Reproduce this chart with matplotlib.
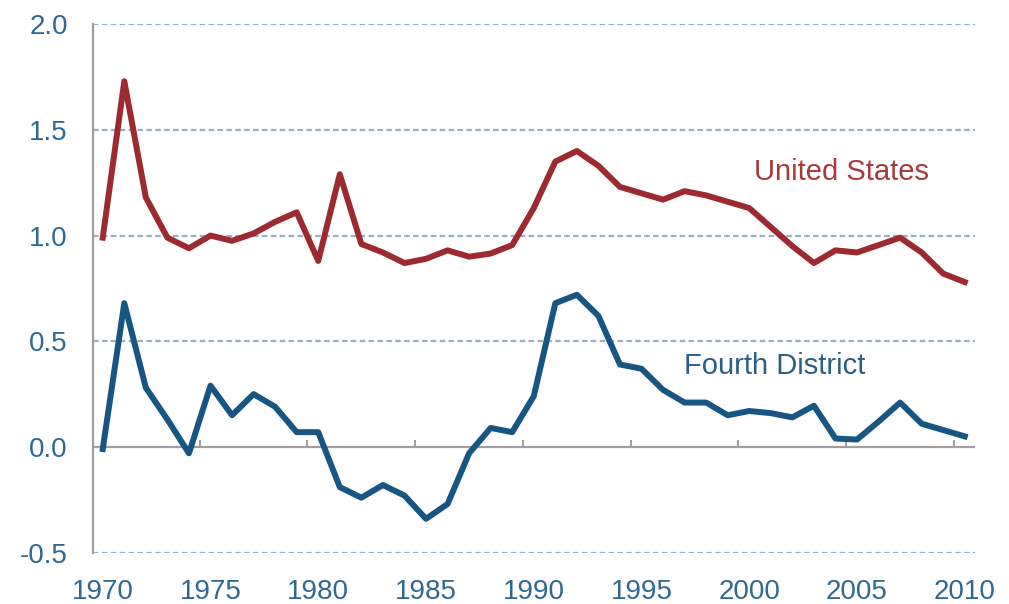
import matplotlib
matplotlib.use("Agg")
from matplotlib import pyplot as plt
import numpy as np

plt.rcParams['font.family'] = ['Liberation Sans', 'DejaVu Sans']

# anos
anos = list(range(1970, 2011))

# Estados Unidos
valores_eua = [0.99, 1.73, 1.18, 0.99, 0.94, 1.00, 0.975, 1.01, 1.065, 1.11,
               0.88, 1.29, 0.96, 0.92, 0.87, 0.89, 0.93, 0.90, 0.915, 0.955,
               1.13, 1.35, 1.40, 1.33, 1.23, 1.20, 1.17, 1.21, 1.19, 1.16,
               1.13, 1.04, 0.95, 0.87, 0.93, 0.92, 0.955, 0.99, 0.92, 0.82,
               0.78]

# Quarto Distrito
valores_distrito = [-0.01, 0.68, 0.28, 0.13, -0.03, 0.29, 0.15, 0.25, 0.19, 0.07,
                    0.07, -0.19, -0.24, -0.18, -0.23, -0.34, -0.27, -0.03, 0.09, 0.07,
                    0.24, 0.68, 0.72, 0.62, 0.39, 0.37, 0.27, 0.21, 0.21, 0.15,
                    0.17, 0.16, 0.14, 0.195, 0.04, 0.035, 0.12, 0.21, 0.11, 0.08,
                    0.05]

anos_rotulos = list(range(1970, 2011, 5))
valores_y = [-0.5, 0.0, 0.5, 1.0, 1.5, 2.0]

cor_eua = '#9c2a30'
cor_distrito = '#175682'
cor_texto = '#2f6891'

fig = plt.figure(figsize=(10.09, 6.04), dpi=100)
ax = fig.add_axes([0.092, 0.085, 0.874, 0.875])

# linhas de grade pontilhadas
for v in valores_y:
    if v != 0:
        ax.axhline(v, color='#9ab0c2', linestyle=(0, (2.5, 1.5)), linewidth=1.6, zorder=1)
ax.axhline(0, color='#a0a0a0', linewidth=1.6, zorder=1)
# marcas entre as categorias (no meio dos anos)
marcas = [a + 4.5 for a in anos_rotulos[:-1]]
ax.vlines(marcas, 0, 0.035, color='#a0a0a0', linewidth=1.4, zorder=1)

ax.plot(anos, valores_eua, color=cor_eua, linewidth=4.3, zorder=3)
ax.plot(anos, valores_distrito, color=cor_distrito, linewidth=4.3, zorder=3)

ax.text(2004.3, 1.30, 'United States', color='#a8393c', fontsize=21, ha='center', va='center')
ax.text(2001.2, 0.385, 'Fourth District', color='#2a6088', fontsize=21, ha='center', va='center')

ax.set_xlim(1969.54, 2010.46)
ax.set_ylim(-0.5, 2.0)
ax.set_yticks(valores_y)
ax.set_yticklabels(['%.1f' % v for v in valores_y])
ax.set_xticks(anos_rotulos)
ax.set_xticklabels([str(a) for a in anos_rotulos])
ax.tick_params(axis='both', length=0, labelsize=20, colors=cor_texto)
ax.tick_params(axis='x', pad=19)
ax.tick_params(axis='y', pad=18)

for lado in ['top', 'right', 'bottom']:
    ax.spines[lado].set_visible(False)
ax.spines['left'].set_color('#a0a0a0')
ax.spines['left'].set_linewidth(1.6)

fig.savefig('out.png', dpi=100)
